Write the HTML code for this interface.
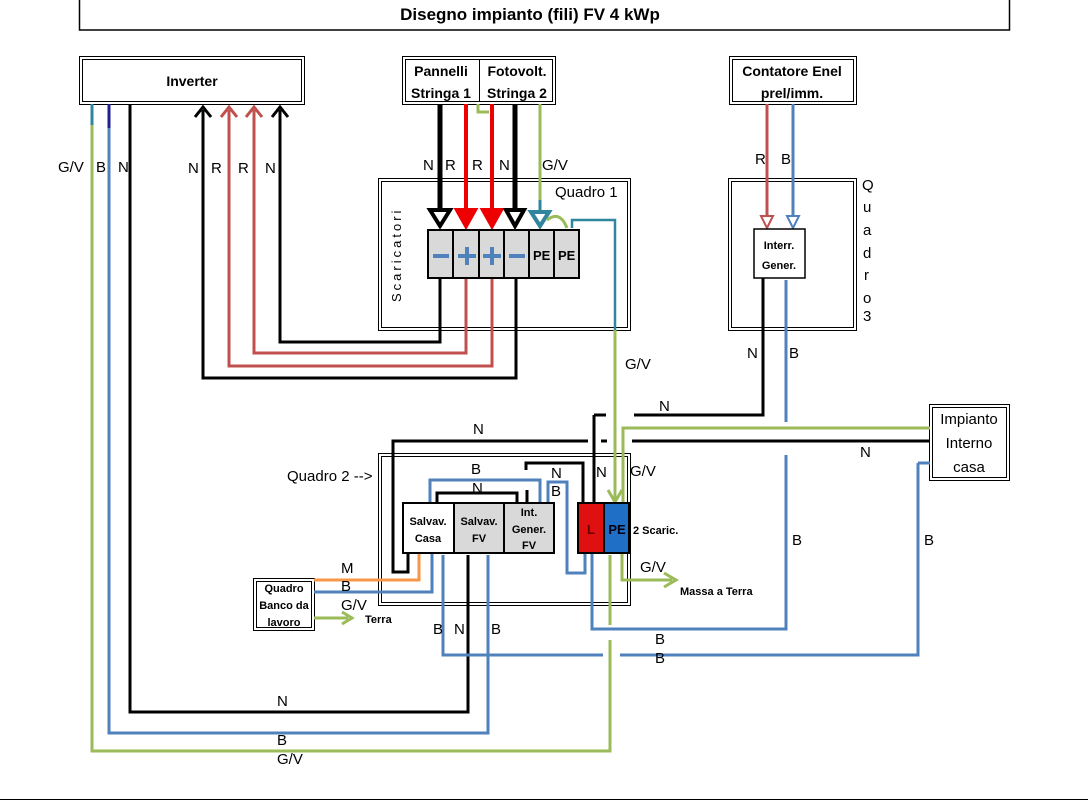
<!DOCTYPE html>
<html><head><meta charset="utf-8"><style>
html,body{margin:0;padding:0;background:#fff}
svg{display:block}
text{font-family:"Liberation Sans",sans-serif;font-size:15px;fill:#000}
.b{font-weight:bold}
.s{font-size:11px;font-weight:bold}
</style></head><body>
<svg width="1088" height="801" viewBox="0 0 1088 801" xmlns="http://www.w3.org/2000/svg">
<defs>
<marker id="ak" markerWidth="6" markerHeight="6" refX="3" refY="3" orient="auto" markerUnits="strokeWidth"><path d="M0,0 L3,3 L0,6" fill="none" stroke="#000" stroke-width="1"/></marker>
</defs>
<g fill="none" stroke-linejoin="miter">
<!-- boxes -->
<rect x="79.5" y="-5" width="930" height="35" stroke="#000" stroke-width="1.5"/>
<rect x="79.5" y="56.5" width="225" height="48" stroke="#000"/><rect x="82.5" y="59.5" width="219" height="42" stroke="#000"/>
<rect x="402.5" y="56.5" width="153" height="48" stroke="#000"/><rect x="405.5" y="59.5" width="147" height="42" stroke="#000"/>
<line x1="479.5" y1="59" x2="479.5" y2="102" stroke="#000"/>
<rect x="729.5" y="56.5" width="127" height="48" stroke="#000"/><rect x="732.5" y="59.5" width="121" height="42" stroke="#000"/>
<rect x="378.5" y="178.5" width="252" height="152" stroke="#000"/><rect x="381.5" y="181.5" width="246" height="146" stroke="#000"/>
<rect x="728.5" y="178.5" width="128" height="152" stroke="#000"/><rect x="731.5" y="181.5" width="122" height="146" stroke="#000"/>
<rect x="378.5" y="453.5" width="252" height="152" stroke="#000"/><rect x="381.5" y="456.5" width="246" height="146" stroke="#000"/>
<rect x="929.5" y="404.5" width="80" height="76" stroke="#000"/><rect x="932.5" y="407.5" width="74" height="70" stroke="#000"/>
<rect x="253.5" y="578.5" width="61" height="52" stroke="#000"/><rect x="256.5" y="581.5" width="55" height="46" stroke="#000"/>
<line x1="0" y1="799.5" x2="1088" y2="799.5" stroke="#000"/>

<!-- inverter wires -->
<polyline points="92,104 92,125" stroke="#31859c" stroke-width="3"/>
<polyline points="92,125 92,751 610,751 610,640" stroke="#9bbb59" stroke-width="3"/>
<polyline points="109,104 109,128" stroke="#1f1f8f" stroke-width="3"/>
<polyline points="109,128 109,733 488,733 488,555" stroke="#4f81bd" stroke-width="3"/>
<polyline points="130,104 130,712 468,712 468,555" stroke="#000" stroke-width="3"/>
<polyline points="203,110 203,378 516,378 516,278" stroke="#000" stroke-width="3"/>
<polyline points="229,110 229,366 492,366 492,278" stroke="#c0504d" stroke-width="3"/>
<polyline points="254,110 254,353 466,353 466,278" stroke="#c0504d" stroke-width="3"/>
<polyline points="280,110 280,342 440,342 440,278" stroke="#000" stroke-width="3"/>
<path d="M195,117 L203,107 L211,117" stroke="#000" stroke-width="3"/>
<path d="M221,117 L229,107 L237,117" stroke="#c0504d" stroke-width="3"/>
<path d="M246,117 L254,107 L262,117" stroke="#c0504d" stroke-width="3"/>
<path d="M272,117 L280,107 L288,117" stroke="#000" stroke-width="3"/>

<!-- string wires -->
<line x1="440" y1="104" x2="440" y2="212" stroke="#000" stroke-width="5"/>
<line x1="466" y1="104" x2="466" y2="212" stroke="#e00" stroke-width="4"/>
<line x1="492" y1="104" x2="492" y2="212" stroke="#e00" stroke-width="4"/>
<line x1="515" y1="104" x2="515" y2="212" stroke="#000" stroke-width="5"/>
<line x1="540" y1="104" x2="540" y2="200" stroke="#9bbb59" stroke-width="3"/>
<line x1="540" y1="200" x2="540" y2="214" stroke="#31859c" stroke-width="3"/>
<path d="M478,104 L478,112 L489,112" stroke="#9bbb59" stroke-width="3"/>
<path d="M430,210 L440,226 L450,210 Z" stroke="#000" stroke-width="4" fill="#fff"/>
<path d="M457,210 L466,226 L475,210 Z" stroke="#e00" stroke-width="4" fill="#e00"/>
<path d="M483,210 L492,226 L501,210 Z" stroke="#e00" stroke-width="4" fill="#e00"/>
<path d="M506,210 L515,226 L524,210 Z" stroke="#000" stroke-width="4" fill="#fff"/>
<path d="M531,212 L540,226 L549,212 Z" stroke="#31859c" stroke-width="4" fill="#fff"/>
<path d="M547,220 Q560,210 567,228" stroke="#9bbb59" stroke-width="3"/>
<polyline points="572,228 572,220 615,220 615,330" stroke="#31859c" stroke-width="2.5"/>

<!-- terminal blocks Q1 -->
<g stroke="#000" stroke-width="2" fill="#d9d9d9">
<rect x="428" y="230" width="25" height="48"/><rect x="453" y="230" width="26" height="48"/><rect x="479" y="230" width="25" height="48"/><rect x="504" y="230" width="25" height="48"/><rect x="529" y="230" width="25" height="48"/><rect x="554" y="230" width="25" height="48"/>
</g>
<g stroke="#4f81bd" stroke-width="4">
<line x1="433" y1="256" x2="449" y2="256"/><line x1="458" y1="256" x2="476" y2="256"/><line x1="467" y1="247" x2="467" y2="265"/>
<line x1="483" y1="256" x2="501" y2="256"/><line x1="492" y1="247" x2="492" y2="265"/><line x1="509" y1="256" x2="525" y2="256"/>
</g>

<!-- Quadro 3 wires -->
<line x1="767" y1="104" x2="767" y2="218" stroke="#c0504d" stroke-width="3"/>
<path d="M761,216 L767,228 L773,216 Z" stroke="#c0504d" stroke-width="2" fill="#fff"/>
<line x1="793" y1="104" x2="793" y2="218" stroke="#4f81bd" stroke-width="3"/>
<path d="M787,216 L793,228 L799,216 Z" stroke="#4f81bd" stroke-width="2" fill="#fff"/>
<rect x="754" y="229" width="51" height="49" stroke="#000" stroke-width="1.5" fill="#fff"/>
<polyline points="763,278 763,415 634,415" stroke="#000" stroke-width="3"/>
<line x1="594" y1="415" x2="606" y2="415" stroke="#000" stroke-width="3"/>
<line x1="786" y1="280" x2="786" y2="422" stroke="#4f81bd" stroke-width="3"/>
<polyline points="786,455 786,629 592,629 592,553" stroke="#4f81bd" stroke-width="3"/>

<!-- green from Q1 down -->
<line x1="615" y1="330" x2="615" y2="500" stroke="#9bbb59" stroke-width="3"/>
<path d="M608,490 L615,502 L622,490" stroke="#9bbb59" stroke-width="3"/>
<polyline points="623,503 623,428 930,428" stroke="#9bbb59" stroke-width="3"/>
<line x1="632" y1="441" x2="930" y2="441" stroke="#000" stroke-width="3"/>
<line x1="601" y1="441" x2="607" y2="441" stroke="#000" stroke-width="3"/>
<polyline points="588,441 393,441 393,572 408,572 408,553" stroke="#000" stroke-width="3"/>
<line x1="594" y1="415" x2="594" y2="503" stroke="#000" stroke-width="3"/>
<polyline points="918,463 918,655 620,655" stroke="#4f81bd" stroke-width="3"/>
<line x1="918" y1="463" x2="930" y2="463" stroke="#4f81bd" stroke-width="3"/>
<polyline points="603,655 443,655 443,555" stroke="#4f81bd" stroke-width="3"/>
<line x1="610" y1="555" x2="610" y2="625" stroke="#9bbb59" stroke-width="3"/>
<polyline points="622,553 622,580 672,580" stroke="#9bbb59" stroke-width="3"/>
<path d="M664,573 L676,580 L664,587" stroke="#9bbb59" stroke-width="3"/>

<!-- Quadro 2 inner wires -->
<polyline points="526,470 526,463 583,463 583,503" stroke="#000" stroke-width="3"/>
<polyline points="430,503 430,480 540,480 540,503" stroke="#4f81bd" stroke-width="3"/>
<polyline points="437,503 437,493 517,493 517,503" stroke="#000" stroke-width="3"/>
<line x1="527" y1="490" x2="527" y2="503" stroke="#000" stroke-width="3"/>
<polyline points="548,503 548,482 567,482 567,573 585,573 585,553" stroke="#4f81bd" stroke-width="3"/>
<polyline points="314,580 419,580 419,553" stroke="#f79646" stroke-width="3"/>
<polyline points="314,592 432,592 432,553" stroke="#4f81bd" stroke-width="3"/>
<line x1="314" y1="618" x2="348" y2="618" stroke="#9bbb59" stroke-width="3"/>
<path d="M342,612 L352,618 L342,624" stroke="#9bbb59" stroke-width="3"/>

<!-- Quadro 2 blocks -->
<rect x="403" y="503" width="51" height="50" stroke="#000" stroke-width="2" fill="#fff"/>
<rect x="454" y="503" width="50" height="50" stroke="#000" stroke-width="2" fill="#d9d9d9"/>
<rect x="504" y="503" width="50" height="50" stroke="#000" stroke-width="2" fill="#d9d9d9"/>
<rect x="578" y="503" width="26" height="50" stroke="#000" stroke-width="2" fill="#e01010"/>
<rect x="604" y="503" width="25" height="50" stroke="#000" stroke-width="2" fill="#1f6fc6"/>
<line x1="290" y1="475" x2="382" y2="475" stroke="none"/>
</g>

<!-- texts -->
<text x="530" y="20" text-anchor="middle" class="b" style="font-size:17px">Disegno impianto (fili) FV 4 kWp</text>
<text x="192" y="86" text-anchor="middle" class="b" style="font-size:14px">Inverter</text>
<text x="441" y="76" text-anchor="middle" class="b" style="font-size:14px">Pannelli</text>
<text x="441" y="98" text-anchor="middle" class="b" style="font-size:14px">Stringa 1</text>
<text x="517" y="76" text-anchor="middle" class="b" style="font-size:14px">Fotovolt.</text>
<text x="517" y="98" text-anchor="middle" class="b" style="font-size:14px">Stringa 2</text>
<text x="792" y="76" text-anchor="middle" class="b" style="font-size:14px">Contatore Enel</text>
<text x="792" y="98" text-anchor="middle" class="b" style="font-size:14px">prel/imm.</text>
<text x="58" y="172">G/V</text><text x="96" y="172">B</text><text x="118" y="172">N</text>
<text x="188" y="173">N</text><text x="211" y="173">R</text><text x="238" y="173">R</text><text x="265" y="173">N</text>
<text x="423" y="170">N</text><text x="445" y="170">R</text><text x="472" y="170">R</text><text x="499" y="170">N</text><text x="542" y="170">G/V</text>
<text x="555" y="197">Quadro 1</text>
<text x="401" y="302" transform="rotate(-90 401 302)" style="font-size:13px;letter-spacing:3px">Scaricatori</text>
<text x="533" y="260" class="b" style="font-size:13px">PE</text><text x="558" y="260" class="b" style="font-size:13px">PE</text>
<text x="755" y="164">R</text><text x="781" y="164">B</text>
<text x="779" y="249" text-anchor="middle" class="s">Interr.</text><text x="779" y="269" text-anchor="middle" class="s">Gener.</text>
<g style="font-size:14px"><text x="862" y="190">Q</text><text x="863" y="212">u</text><text x="863" y="235">a</text><text x="863" y="258">d</text><text x="864" y="280">r</text><text x="863" y="303">o</text><text x="863" y="321">3</text></g>
<text x="747" y="358">N</text><text x="789" y="358">B</text>
<text x="625" y="369">G/V</text>
<text x="659" y="411">N</text>
<text x="473" y="434">N</text>
<text x="860" y="457">N</text>
<text x="969" y="424" text-anchor="middle">Impianto</text><text x="969" y="448" text-anchor="middle">Interno</text><text x="969" y="472" text-anchor="middle">casa</text>
<text x="287" y="481">Quadro 2 --&gt;</text>
<text x="471" y="474">B</text><text x="472" y="493">N</text><text x="551" y="478">N</text><text x="551" y="496">B</text>
<text x="596" y="477">N</text><text x="630" y="476">G/V</text>
<text x="428" y="525" text-anchor="middle" class="s">Salvav.</text><text x="428" y="542" text-anchor="middle" class="s">Casa</text>
<text x="479" y="525" text-anchor="middle" class="s">Salvav.</text><text x="479" y="542" text-anchor="middle" class="s">FV</text>
<text x="529" y="516" text-anchor="middle" class="s">Int.</text><text x="529" y="533" text-anchor="middle" class="s">Gener.</text><text x="529" y="549" text-anchor="middle" class="s">FV</text>
<text x="591" y="534" text-anchor="middle" class="b" style="font-size:13px;fill:#600">L</text>
<text x="617" y="534" text-anchor="middle" class="b" style="font-size:13px;fill:#001">PE</text>
<text x="633" y="534" class="s">2 Scaric.</text>
<text x="640" y="572">G/V</text>
<text x="680" y="595" class="s">Massa a Terra</text>
<text x="792" y="545">B</text><text x="924" y="545">B</text>
<text x="341" y="573">M</text><text x="341" y="591">B</text><text x="341" y="610">G/V</text>
<text x="365" y="623" class="s">Terra</text>
<text x="284" y="592" text-anchor="middle" class="s">Quadro</text><text x="284" y="609" text-anchor="middle" class="s">Banco da</text><text x="284" y="626" text-anchor="middle" class="s">lavoro</text>
<text x="433" y="634">B</text><text x="454" y="634">N</text><text x="491" y="634">B</text>
<text x="655" y="644">B</text><text x="655" y="663">B</text>
<text x="277" y="706">N</text>
<text x="277" y="745">B</text>
<text x="277" y="764">G/V</text>
</svg>
</body></html>
